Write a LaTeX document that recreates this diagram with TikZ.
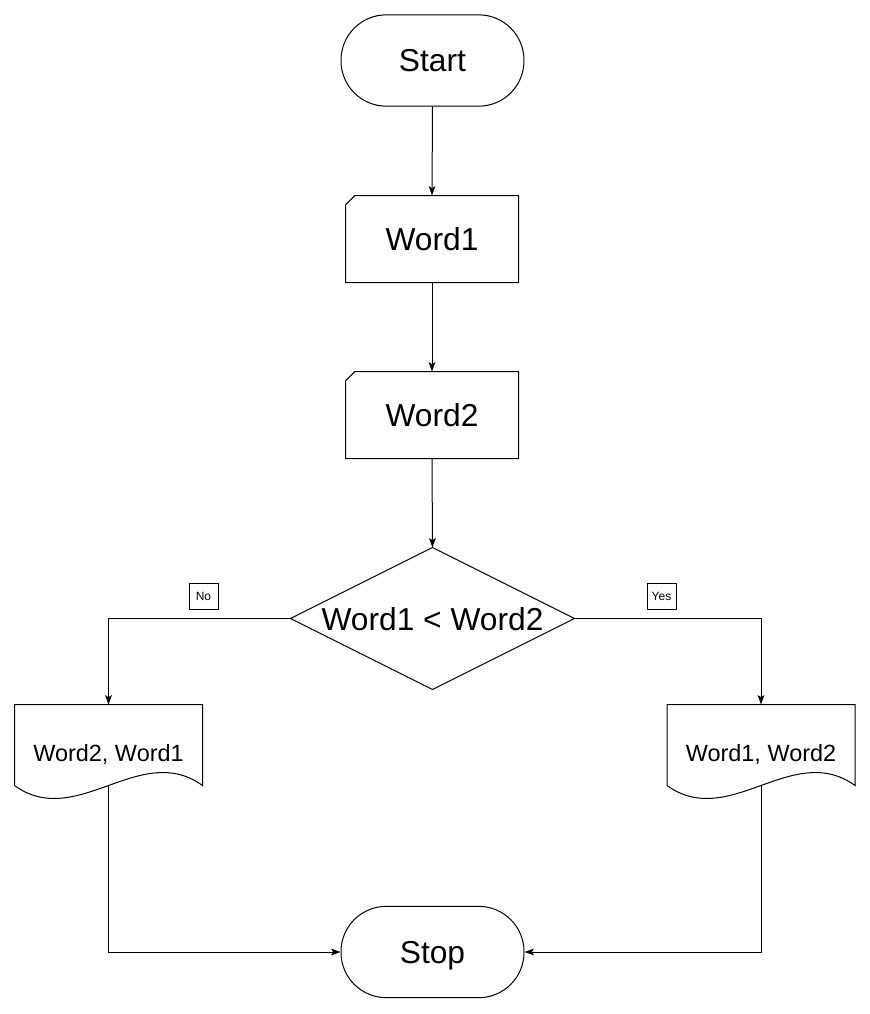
\documentclass[tikz,border=0pt]{standalone}
\usepackage{fontspec}
\setmainfont{Liberation Sans}
\usetikzlibrary{arrows.meta}
\begin{document}
\begin{tikzpicture}[x=0.75pt,y=-0.75pt,
  line width=0.75pt,
  conn/.style={-{Stealth[length=7pt,width=5pt,inset=1.5pt]}},
  terminal/.style={draw,rectangle,rounded corners=34pt,minimum width=137.25pt,minimum height=68.5pt,inner sep=0pt,text depth=0pt,font=\fontsize{23.8}{28}\selectfont},
  cardbox/.style={rectangle,minimum width=129pt,minimum height=64.5pt,inner sep=0pt,text depth=0pt,font=\fontsize{23.8}{28}\selectfont},
  decbox/.style={rectangle,minimum width=212.25pt,minimum height=105.75pt,inner sep=0pt,text depth=0pt,font=\fontsize{23.8}{28}\selectfont},
  docbox/.style={rectangle,minimum width=140.25pt,minimum height=60pt,inner sep=0pt},
  doctext/.style={text depth=0pt,font=\fontsize{17.6}{21}\selectfont},
  lbl/.style={draw,rectangle,minimum width=21.75pt,minimum height=19.5pt,inner sep=0pt,font=\fontsize{9}{11}\selectfont}
]
\useasboundingbox (0,0) rectangle (870,1014);

\node[terminal] (start) at (432.5,60.5) {Start};
\node[cardbox] (w1) at (432,239) {Word1};
\node[cardbox] (w2) at (432,415) {Word2};
\node[decbox] (d) at (432.5,618.5) {Word1 < Word2};
\node[docbox] (docL) at (108.5,745) {};
\node[docbox] (docR) at (761,745) {};
\node[doctext] (tL) at (108.5,753) {Word2, Word1};
\node[doctext] (tR) at (761,753) {Word1, Word2};
\node[terminal] (stop) at (432.5,952) {Stop};
\node[lbl] (no) at (203.5,596) {No};
\node[lbl] (yes) at (661.5,596) {Yes};

% card shapes
\foreach \n in {w1,w2}{
  \draw ([yshift=-7pt]\n.north west) -- ([xshift=7pt]\n.north west) -- (\n.north east) -- (\n.south east) -- (\n.south west) -- cycle;
}
% diamond
\draw (d.north) -- (d.east) -- (d.south) -- (d.west) -- cycle;
% documents
\foreach \n in {docL,docR}{
  \draw (\n.north west) -- (\n.north east) -- (\n.south east)
    .. controls ([xshift=-46.75pt,yshift=33.75pt]\n.south east) and ([xshift=46.75pt,yshift=-33.75pt]\n.south west) .. (\n.south west) -- cycle;
}

% connectors
\draw[conn] (start.south) -- (w1.north);
\draw[conn] (w1.south) -- (w2.north);
\draw[conn] (w2.south) -- (d.north);
\draw[conn] (d.west) -| (docL.north);
\draw[conn] (d.east) -| (docR.north);
\draw[conn] (docL.south) |- (stop.west);
\draw[conn] (docR.south) |- (stop.east);
\end{tikzpicture}
\end{document}
